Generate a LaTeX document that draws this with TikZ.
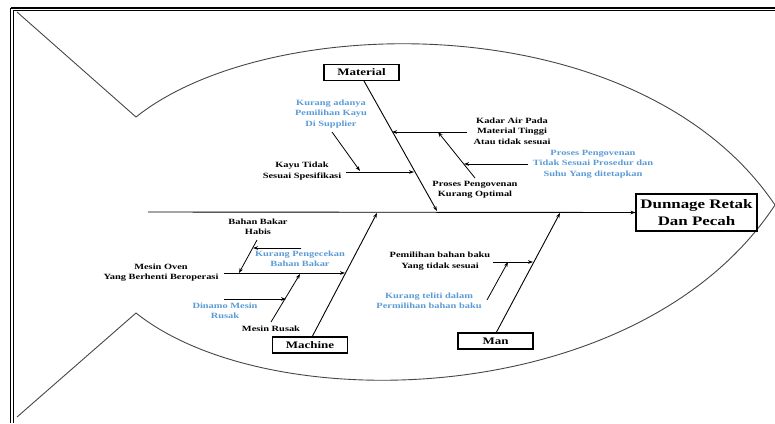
\documentclass[tikz,border=0pt]{standalone}
\usepackage{fontspec}
\setmainfont{Liberation Serif}[FakeStretch=1.3]
\usetikzlibrary{arrows.meta}
\definecolor{lblue}{RGB}{91,155,213}
\definecolor{outl}{RGB}{70,70,70}
\tikzset{
  lbl/.style={font=\bfseries\fontsize{8}{10.3}\selectfont, align=center, inner sep=0pt, text=black},
  blbl/.style={lbl, text=lblue},
  catbox/.style={draw, line width=1.1pt, minimum width=75pt, minimum height=16pt, inner sep=0pt, font=\bfseries\fontsize{10}{12}\selectfont},
  effbox/.style={draw, line width=1.1pt, minimum width=121pt, minimum height=37pt, inner sep=0pt, align=center, font=\bfseries\fontsize{13}{17}\selectfont},
  arr/.style={line width=0.8pt, -{Stealth[length=5pt,width=3.6pt]}},
  bone/.style={line width=0.9pt, -{Stealth[length=5pt,width=3.6pt]}},
  fish/.style={draw=outl, line width=0.9pt}
}
\begin{document}
\begin{tikzpicture}[x=1pt,y=-1pt]
\useasboundingbox (0,0) rectangle (775,423);
% frame (double line)
\draw[line width=1.5pt] (10.5,7.8) -- (775,7.8);
\draw[line width=0.7pt] (13,10.5) -- (775,10.5);
\draw[line width=1.5pt] (10.5,7.8) -- (10.5,423);
\draw[line width=0.7pt] (13,10.5) -- (13,423);
% fish outline
\draw[fish] (17,12) -- (136,117) .. controls (270,10) and (640,5) .. (775,205)
  .. controls (640,410) and (270,420) .. (136,313) -- (17,417);
% boxes
\node[catbox] (mat) at (361.5,72.5) {Material};
\node[catbox] (mach) at (310,345) {Machine};
\node[catbox] (man) at (495.5,341) {Man};
\node[effbox] (eff) at (696.5,212.5) {Dunnage Retak\\Dan Pecah};
% spine
\coordinate (sp0) at (148,212);
\draw[bone] (sp0) -- (eff.west);
\coordinate (matE) at (437,211);
\coordinate (machE) at (377,213);
\coordinate (manE) at (560,213);
\coordinate (matS) at (364,81);
\coordinate (machS) at (312,337);
\coordinate (manS) at (496,333);
\draw[bone] (matS) -- (matE);
\draw[bone] (machS) -- (machE);
\draw[bone] (manS) -- (manE);
% Material labels
\node[lbl] (kadar) at (512,131) {Kadar Air Pada\\Material Tinggi\\Atau tidak sesuai};
\node[blbl] (prts) at (593,164) {Proses Pengovenan\\Tidak Sesuai Prosedur dan\\Suhu Yang ditetapkan};
\node[lbl] (prko) at (475,190) {Proses Pengovenan\\Kurang Optimal};
\node[lbl] (kayu) at (302,171) {Kayu Tidak\\Sesuai Spesifikasi};
\node[blbl] (kad) at (331,114) {Kurang adanya\\Pemilihan Kayu\\Di Supplier};
\coordinate (kadarA) at (467,132); \coordinate (kadarB) at (392,132);
\coordinate (prtsA) at (528,164); \coordinate (prtsB) at (464,164);
\coordinate (prkoA) at (475,178); \coordinate (prkoB) at (438,132);
\coordinate (kayuA) at (346,172); \coordinate (kayuB) at (414,172);
\coordinate (kadA) at (332,132); \coordinate (kadB) at (360,171);
\draw[arr] (kadarA) -- (kadarB);
\draw[arr] (prtsA) -- (prtsB);
\draw[arr] (prkoA) -- (prkoB);
\draw[arr] (kayuA) -- (kayuB);
\draw[arr] (kadA) -- (kadB);
% Machine labels
\node[lbl] (oven) at (161,272.5) {Mesin Oven\\Yang Berhenti Beroperasi};
\node[lbl] (bbh) at (258,227) {Bahan Bakar\\Habis};
\node[blbl] (kpb) at (300,259) {Kurang Pengecekan\\Bahan Bakar};
\node[lbl] (mr) at (271,329) {Mesin Rusak};
\node[blbl] (dm) at (225,311) {Dinamo Mesin\\Rusak};
\coordinate (ovenA) at (224,273); \coordinate (ovenB) at (345,273);
\coordinate (bbhA) at (257,240); \coordinate (bbhB) at (239,273);
\coordinate (kpbA) at (301,248); \coordinate (kpbB) at (253,248);
\coordinate (mrA) at (271,322); \coordinate (mrB) at (300,274);
\coordinate (dmA) at (224,299); \coordinate (dmB) at (286,299);
\draw[arr] (ovenA) -- (ovenB);
\draw[arr] (bbhA) -- (bbhB);
\draw[arr] (kpbA) -- (kpbB);
\draw[arr] (mrA) -- (mrB);
\draw[arr] (dmA) -- (dmB);
% Man labels
\node[lbl] (pbb) at (440,261) {Pemilihan bahan baku\\Yang tidak sesuai};
\node[blbl] (ktd) at (429,301) {Kurang teliti dalam\\Permilihan bahan baku};
\coordinate (pbbA) at (493,262); \coordinate (pbbB) at (533,262);
\coordinate (ktdA) at (487,300); \coordinate (ktdB) at (508,262);
\draw[arr] (pbbA) -- (pbbB);
\draw[arr] (ktdA) -- (ktdB);
\end{tikzpicture}
\end{document}
